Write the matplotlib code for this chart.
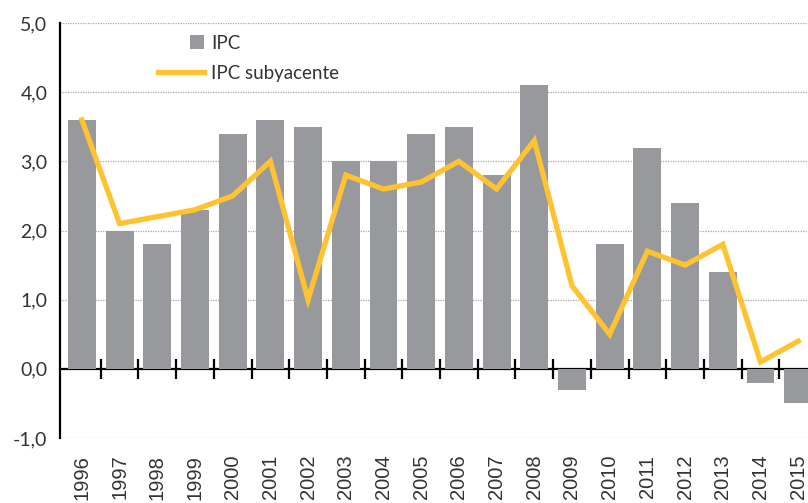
"""IPC vs IPC subyacente, 1996-2015: bars plus line."""

import matplotlib

matplotlib.use("Agg")
import matplotlib.pyplot as plt
import numpy as np
from matplotlib.legend_handler import HandlerPatch
from matplotlib.patches import Rectangle
from matplotlib.ticker import FuncFormatter

years = [str(y) for y in range(1996, 2016)]
ipc = [3.6, 2.0, 1.8, 2.3, 3.4, 3.6, 3.5, 3.0, 3.0, 3.4,
       3.5, 2.8, 4.1, -0.3, 1.8, 3.2, 2.4, 1.4, -0.2, -0.5]
ipc_subyacente = [3.6, 2.1, 2.2, 2.3, 2.5, 3.0, 1.0, 2.8, 2.6, 2.7,
                  3.0, 2.6, 3.3, 1.2, 0.5, 1.7, 1.5, 1.8, 0.1, 0.4]
y_ticks = [-1.0, 0.0, 1.0, 2.0, 3.0, 4.0, 5.0]

BAR_COLOR = "#98999d"
LINE_COLOR = "#ffc331"
TEXT_COLOR = "#333333"


def _square_patch(legend, orig_handle, xdescent, ydescent, width, height, fontsize):
    # square swatch aligned to the right end of the handle box
    side = 10.0
    return Rectangle((width - side - xdescent, -ydescent + (height - side) / 2), side, side)


fig = plt.figure(figsize=(8.08, 5.03), dpi=100)
ax = fig.add_axes([60 / 808, 65 / 503, 748 / 808, 415 / 503])

x = np.arange(len(years))
bars = ax.bar(x, ipc, width=0.74, color=BAR_COLOR, label="IPC", zorder=2)
(line,) = ax.plot(x, ipc_subyacente, color=LINE_COLOR, linewidth=3.8,
                  solid_joinstyle="miter", label="IPC subyacente", zorder=3)

ax.set_xlim(-0.58, 19.26)
ax.set_ylim(y_ticks[0], y_ticks[-1])

# axes styling
for side in ("top", "right", "bottom"):
    ax.spines[side].set_visible(False)
ax.spines["left"].set_color("#000000")
ax.spines["left"].set_linewidth(1.6)

ax.set_yticks(y_ticks)
ax.yaxis.set_major_formatter(FuncFormatter(lambda v, _: f"{v:.1f}".replace(".", ",")))
ax.tick_params(axis="y", length=0, pad=9, labelsize=14, labelcolor=TEXT_COLOR)
for label in ax.get_yticklabels():
    label.set_fontfamily(["Lato", "DejaVu Sans"])

ax.set_xticks(x)
ax.set_xticklabels(years, rotation=90, fontsize=14.5, color=TEXT_COLOR,
                   fontfamily=["Liberation Sans", "DejaVu Sans"])
ax.tick_params(axis="x", length=0, pad=12)

for yv in y_ticks:
    if yv != 0:
        ax.axhline(yv, color="#a8a8a8", linewidth=0.9, linestyle=(0, (1, 1)), zorder=1)

# zero line with category separators
zero_frac = (0 - y_ticks[0]) / (y_ticks[-1] - y_ticks[0])
zero_axis = ax.secondary_xaxis(zero_frac)
zero_axis.spines["bottom"].set_color("#000000")
zero_axis.spines["bottom"].set_linewidth(1.6)
zero_axis.set_xticks(x[:-1] + 0.5)
zero_axis.tick_params(axis="x", direction="inout", length=14, width=1.6,
                      colors="#000000", labelbottom=False)

bar_handle = bars.patches[0]
ax.legend([bar_handle, line], ["IPC", "IPC subyacente"],
          loc="upper left", bbox_to_anchor=(0.109, 1.012), frameon=False,
          handlelength=2.45, handletextpad=0.35, labelspacing=0.7,
          prop={"family": ["Lato", "DejaVu Sans"], "size": 13.5},
          labelcolor=TEXT_COLOR,
          handler_map={bar_handle: HandlerPatch(patch_func=_square_patch)})

fig.savefig("out.png", dpi=100, facecolor="white")
